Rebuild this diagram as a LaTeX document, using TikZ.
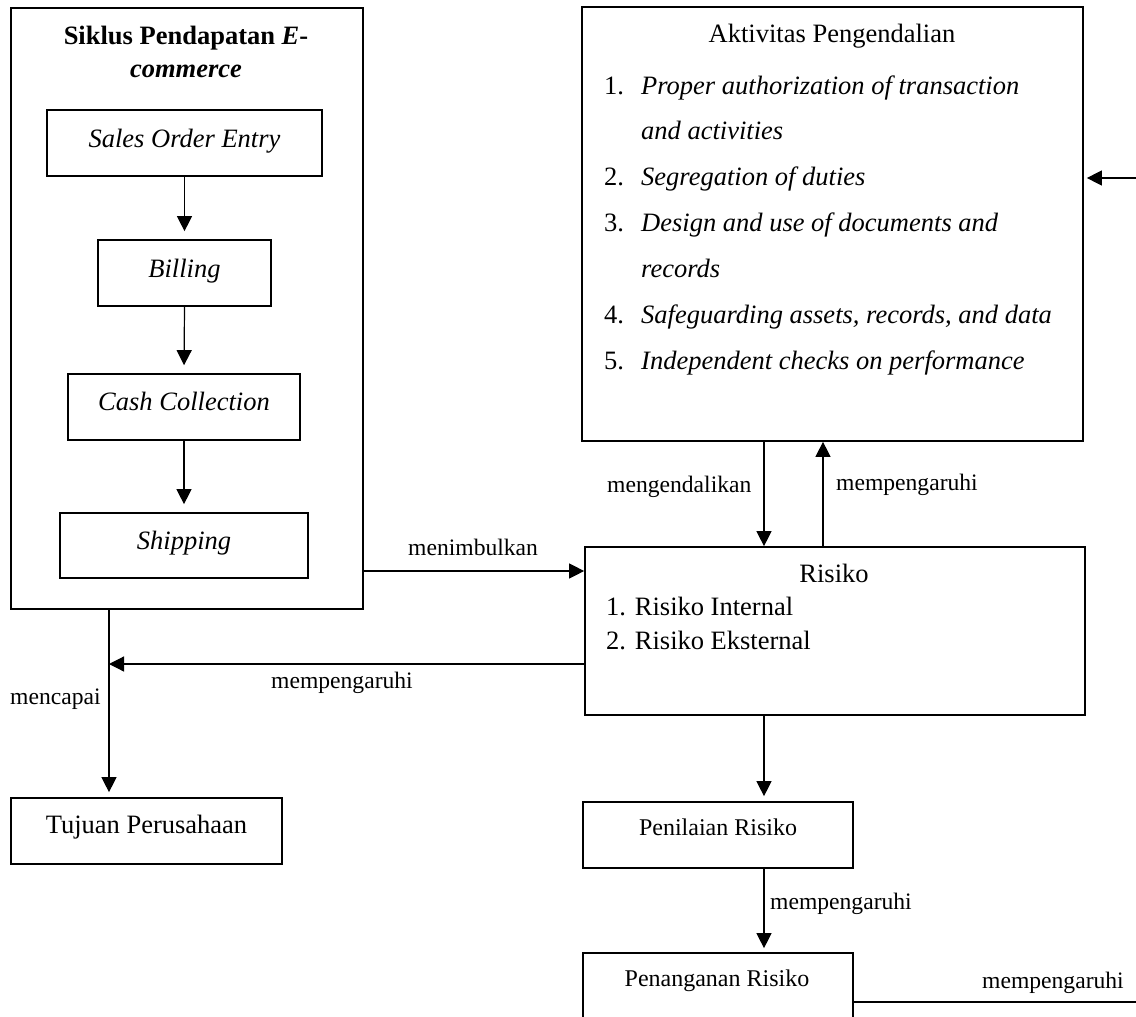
\documentclass[tikz,border=0pt]{standalone}
\usepackage{fontspec}
\setmainfont{Liberation Serif}
\usetikzlibrary{arrows.meta}
\begin{document}
\begin{tikzpicture}[x=1pt,y=-1pt,
  box/.style={draw, line width=1.7pt, inner sep=0pt},
  arr/.style={line width=1.2pt, -{Triangle[length=15pt,width=15pt]}},
  plainline/.style={line width=1.2pt},
  txt/.style={font=\fontsize{26.5}{30}\selectfont, inner sep=0pt},
  stxt/.style={font=\fontsize{24}{28}\selectfont, inner sep=0pt},
  ttl/.style={font=\fontsize{26.5}{30}\selectfont\bfseries, inner sep=0pt},
  itm/.style={font=\fontsize{26.5}{30}\selectfont\itshape, inner sep=0pt},
  lbl/.style={font=\fontsize{23.6}{28}\selectfont, inner sep=0pt}]
\useasboundingbox (0,0) rectangle (1136,1017);
\clip (0,0) rectangle (1136,1017);

% ---- boxes ----
\node[box, minimum width=352pt, minimum height=601pt] (cycle) at (187,308.5) {};
\node[box, minimum width=275pt, minimum height=66pt] (soe) at (184.5,143) {};
\node[box, minimum width=173pt, minimum height=66pt] (bill) at (184.5,273) {};
\node[box, minimum width=232pt, minimum height=66pt] (cash) at (184,407) {};
\node[box, minimum width=248pt, minimum height=65pt] (ship) at (184,545.5) {};
\node[box, minimum width=271pt, minimum height=66pt] (tuj) at (146.5,831) {};
\node[box, minimum width=501pt, minimum height=434pt] (akt) at (832.5,224) {};
\node[box, minimum width=500pt, minimum height=168pt] (risk) at (835,631) {};
\node[box, minimum width=270pt, minimum height=66pt] (pnl) at (718,835) {};
\node[box, minimum width=270pt, minimum height=100pt] (pnh) at (718,1003) {};

% ---- texts ----
\node[ttl, anchor=base] (t1) at (186,44) {Siklus Pendapatan \textit{E}-};
\node[ttl, anchor=base] (t2) at (186,77) {\textit{commerce}};
\node[itm, anchor=base] (soeT) at (184.5,147) {Sales Order Entry};
\node[itm, anchor=base] (billT) at (184.5,277) {Billing};
\node[itm, anchor=base] (cashT) at (184,410) {Cash Collection};
\node[itm, anchor=base] (shipT) at (184,549) {Shipping};
\node[txt, anchor=base] (tujT) at (146.5,833) {Tujuan Perusahaan};

\node[txt, anchor=base] (aktT) at (832,42) {Aktivitas Pengendalian};
\node[txt, anchor=base west] (n1) at (604,94) {1.};
\node[itm, anchor=base west] (i1a) at (641,94) {Proper authorization of transaction};
\node[itm, anchor=base west] (i1b) at (641,139) {and activities};
\node[txt, anchor=base west] (n2) at (604,185) {2.};
\node[itm, anchor=base west] (i2) at (641,185) {Segregation of duties};
\node[txt, anchor=base west] (n3) at (604,231) {3.};
\node[itm, anchor=base west] (i3a) at (641,231) {Design and use of documents and};
\node[itm, anchor=base west] (i3b) at (641,277) {records};
\node[txt, anchor=base west] (n4) at (604,323) {4.};
\node[itm, anchor=base west] (i4) at (641,323) {Safeguarding assets, records, and data};
\node[txt, anchor=base west] (n5) at (604,369) {5.};
\node[itm, anchor=base west] (i5) at (641,369) {Independent checks on performance};

\node[txt, anchor=base] (riskT) at (834,582) {Risiko};
\node[txt, anchor=base west] (r1) at (606,615) {1. Risiko Internal};
\node[txt, anchor=base west] (r2) at (606,649) {2. Risiko Eksternal};

\node[stxt, anchor=base] (pnlT) at (718,835) {Penilaian Risiko};
\node[stxt, anchor=base] (pnhT) at (717,986) {Penanganan Risiko};

% ---- labels ----
\node[lbl, anchor=base west] (lMen) at (408,555) {menimbulkan};
\node[lbl, anchor=base west] (lKen) at (607,492) {mengendalikan};
\node[lbl, anchor=base west] (lPe1) at (836,490) {mempengaruhi};
\node[lbl, anchor=base west] (lPe2) at (271,688) {mempengaruhi};
\node[lbl, anchor=base west] (lCap) at (10,704) {mencapai};
\node[lbl, anchor=base west] (lPe3) at (770,909) {mempengaruhi};
\node[lbl, anchor=base west] (lPe4) at (982,988) {mempengaruhi};

% ---- helper coordinates ----
\coordinate (yMen) at (0,571);
\coordinate (yInf) at (0,664);
\coordinate (ySeg) at (0,178);
\coordinate (yOut) at (0,1002);
\coordinate (xGoal) at (109,0);
\coordinate (xDown) at (764,0);
\coordinate (xUp) at (823,0);
\coordinate (rightIn) at (1136,178);
\coordinate (rightOut) at (1136,1002);

% ---- connectors ----
\draw[arr, shorten >=8pt] (soe.south) -- (bill.north);
\draw[arr, shorten >=8pt] (bill.south) -- (cash.north);
\draw[arr, shorten >=8pt] (cash.south) -- (ship.north);
\draw[arr] (cycle.east |- yMen) -- (risk.west |- yMen);
\draw[arr] (risk.west |- yInf) -- (xGoal |- yInf);
\draw[arr, shorten >=5pt] (cycle.south -| xGoal) -- (tuj.north -| xGoal);
\draw[arr] (akt.south -| xDown) -- (risk.north -| xDown);
\draw[arr] (risk.north -| xUp) -- (akt.south -| xUp);
\draw[arr, shorten >=5pt] (risk.south -| xDown) -- (pnl.north -| xDown);
\draw[arr, shorten >=4pt] (pnl.south -| xDown) -- (pnh.north -| xDown);
\draw[arr, shorten >=3pt] (rightIn) -- (akt.east |- ySeg);
\draw[plainline] (pnh.east |- yOut) -- (rightOut);
\end{tikzpicture}
\end{document}
